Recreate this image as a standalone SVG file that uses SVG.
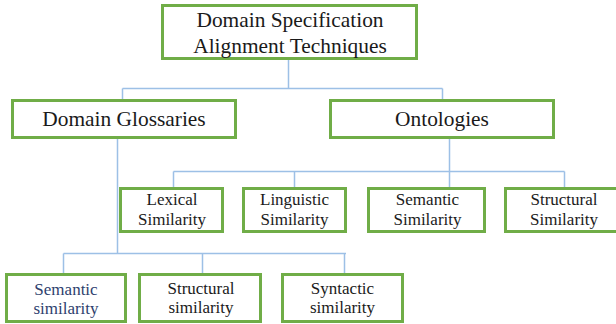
<svg xmlns="http://www.w3.org/2000/svg" width="616" height="324" viewBox="0 0 616 324">
<style>
.box{fill:#ffffff;stroke:#70ad47;stroke-width:3}
.conn{fill:none;stroke:#9dc0e6;stroke-width:1.5}
text{fill:#1a1a1a;text-anchor:middle}
.l1{font-size:21.4px}
.l2{font-size:17px}
.blue{fill:#2e3f6e}
</style>
<rect width="616" height="324" fill="#ffffff"/>
<g id="connectors">
<path class="conn" d="M288.5 60V88.5M122.5 88.5H442.5M122.5 88.5V99M442.5 88.5V99"/>
<path class="conn" d="M449.5 139V187M173.5 171.5H564.5M173.5 171.5V187M294.5 171.5V187M564.5 171.5V187"/>
<path class="conn" d="M117.5 139V253.5M63.5 253.5H346M63.5 253.5V273M202.5 253.5V273M344.5 253.5V273"/>
</g>
<g font-family="Liberation Serif, Times New Roman, serif">
<g id="root">
<rect class="box" x="162.5" y="5.5" width="254" height="53"/>
<text class="l1" x="290" y="27">Domain Specification</text>
<text class="l1" x="290" y="53">Alignment Techniques</text>
</g>
<g id="glossaries">
<rect class="box" x="12.5" y="100.5" width="223" height="37"/>
<text class="l1" x="124" y="126">Domain Glossaries</text>
</g>
<g id="ontologies">
<rect class="box" x="330.5" y="100.5" width="223" height="37"/>
<text class="l1" x="442" y="126">Ontologies</text>
</g>
<g id="lexical">
<rect class="box" x="120.5" y="188.5" width="102" height="43"/>
<text class="l2" x="172" y="205">Lexical</text>
<text class="l2" x="172" y="225">Similarity</text>
</g>
<g id="linguistic">
<rect class="box" x="243.5" y="188.5" width="102" height="43"/>
<text class="l2" x="294.5" y="205">Linguistic</text>
<text class="l2" x="294.5" y="225">Similarity</text>
</g>
<g id="semantic-ont">
<rect class="box" x="368.5" y="188.5" width="116" height="43"/>
<text class="l2" x="427.5" y="204.5">Semantic</text>
<text class="l2" x="427.5" y="224.5">Similarity</text>
</g>
<g id="structural-ont">
<rect class="box" x="505.5" y="188.5" width="117" height="43"/>
<text class="l2" x="564" y="204.5">Structural</text>
<text class="l2" x="564" y="224.5">Similarity</text>
</g>
<g id="semantic-gl">
<rect class="box" x="6.5" y="274.5" width="119" height="47"/>
<text class="l2 blue" x="66" y="295">Semantic</text>
<text class="l2 blue" x="66" y="314">similarity</text>
</g>
<g id="structural-gl">
<rect class="box" x="139.5" y="274.5" width="121" height="47"/>
<text class="l2" x="201" y="294">Structural</text>
<text class="l2" x="201" y="313">similarity</text>
</g>
<g id="syntactic-gl">
<rect class="box" x="282.5" y="274.5" width="120" height="47"/>
<text class="l2" x="342.5" y="294">Syntactic</text>
<text class="l2" x="342.5" y="313">similarity</text>
</g>
</g>
</svg>
